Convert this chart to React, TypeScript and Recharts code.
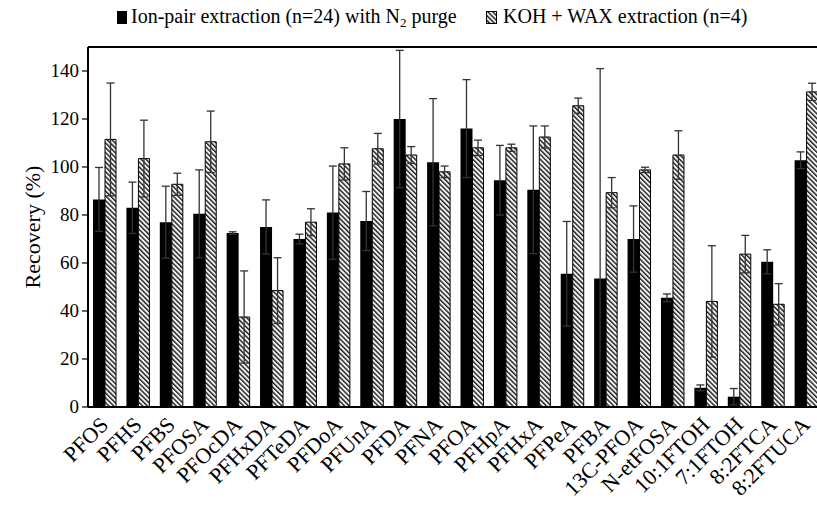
import React from 'react';
import { BarChart, Bar, XAxis, YAxis, ErrorBar, ReferenceLine } from 'recharts';

const categories = ['PFOS','PFHS','PFBS','PFOSA','PFOcDA','PFHxDA','PFTeDA','PFDoA','PFUnA','PFDA','PFNA','PFOA','PFHpA','PFHxA','PFPeA','PFBA','13C-PFOA','N-etFOSA','10:1FTOH','7:1FTOH','8:2FTCA','8:2FTUCA'];
const ionPair = [86.5, 83, 77, 80.5, 72.5, 75, 70, 81, 77.5, 120, 102, 116, 94.5, 90.5, 55.5, 53.5, 70, 45.5, 8, 4.3, 60.5, 102.8];
const ionPairErr = [13.3, 10.7, 15, 18.3, 0.5, 11.3, 2, 19.4, 12.3, 28.6, 26.5, 20.4, 14.5, 26.6, 21.8, 87.5, 13.8, 1.6, 1.2, 3.4, 5, 3.5];
const kohWax = [111.5, 103.5, 92.8, 110.5, 37.5, 48.5, 77, 101.3, 107.6, 105, 98, 108, 108, 112.5, 125.5, 89.3, 98.8, 105, 44, 63.7, 42.8, 131.3];
const kohWaxErr = [23.5, 16, 4.6, 12.8, 19.2, 13.7, 5.6, 6.7, 6.4, 3.5, 2.4, 3.2, 1.5, 4.6, 3.2, 6.3, 1.1, 10.1, 23.2, 7.8, 8.6, 3.6];
const yTicks = [0, 20, 40, 60, 80, 100, 120, 140];

const data = categories.map((name, i) => ({
  name,
  ion: ionPair[i],
  ionErr: [Math.min(ionPairErr[i], ionPair[i]), ionPairErr[i]],
  koh: kohWax[i],
  kohErr: [Math.min(kohWaxErr[i], kohWax[i]), kohWaxErr[i]],
}));

const FONT = '"Liberation Serif", "DejaVu Serif", serif';

const XTick = (props: any) => {
  const { x, y, payload } = props;
  const ax = x + 5;
  const ay = y + 11;
  return (
    <text x={ax} y={ay} textAnchor="end" fontFamily={FONT} fontSize={22} fill="#000"
      style={{ fontFamily: FONT }} transform={`rotate(-45, ${ax}, ${ay})`}>
      {payload.value}
    </text>
  );
};

const YTick = (props: any) => {
  const { x, y, payload } = props;
  return (
    <text x={x} y={y} dy={6} textAnchor="end" fontFamily={FONT} fontSize={19} fill="#000" style={{ fontFamily: FONT }}>
      {payload.value}
    </text>
  );
};

const YLabel = (props: any) => {
  const { viewBox } = props;
  const cx = 32;
  const cy = viewBox.y + viewBox.height / 2;
  return (
    <text x={cx} y={cy} textAnchor="middle" dominantBaseline="central" fontFamily={FONT} fontSize={22} fill="#000"
      style={{ fontFamily: FONT }} transform={`rotate(-90, ${cx}, ${cy})`}>
      Recovery (%)
    </text>
  );
};

export default function App() {
  return (
    <div style={{ position: 'absolute', left: 0, top: 0, width: 817, height: 506, overflow: 'hidden', background: '#fff', fontFamily: FONT }}>
      <div style={{ position: 'absolute', left: 0, top: 0, width: 817, height: 40, fontFamily: FONT, fontSize: 20, color: '#000' }}>
        <div style={{ position: 'absolute', left: 117, top: 11, width: 10, height: 13, background: '#000' }} />
        <div style={{ position: 'absolute', left: 131, top: 3, whiteSpace: 'nowrap', lineHeight: '26px' }}>
          Ion-pair extraction (n=24) with N<sub style={{ fontSize: 13, verticalAlign: '-4px', lineHeight: 0 }}>2</sub> purge
        </div>
        <svg style={{ position: 'absolute', left: 486, top: 11 }} width={11} height={13}>
          <defs>
            <pattern id="hatchL" patternUnits="userSpaceOnUse" width={3.4} height={3.4} patternTransform="rotate(-45)">
              <rect width={3.4} height={3.4} fill="#f4f4f4" />
              <line x1={0.7} y1={0} x2={0.7} y2={3.4} stroke="#1a1a1a" strokeWidth={1.4} />
            </pattern>
          </defs>
          <rect x={0.5} y={0.5} width={10} height={12} fill="url(#hatchL)" stroke="#000" strokeWidth={1} />
        </svg>
        <div style={{ position: 'absolute', left: 503, top: 3, whiteSpace: 'nowrap', lineHeight: '26px' }}>
          KOH + WAX extraction (n=4)
        </div>
      </div>
      <BarChart width={840} height={506} data={data} margin={{ top: 47, right: 17, bottom: 0, left: 0 }}
        barGap={0} barCategoryGap={10} style={{ fontFamily: FONT }}>
        <defs>
          <pattern id="hatch" patternUnits="userSpaceOnUse" width={3.4} height={3.4} patternTransform="rotate(-45)">
            <rect width={3.4} height={3.4} fill="#f4f4f4" />
            <line x1={0.7} y1={0} x2={0.7} y2={3.4} stroke="#1a1a1a" strokeWidth={1.4} />
          </pattern>
        </defs>
        <XAxis dataKey="name" height={99} interval={0} tickLine={false} axisLine={{ stroke: '#000', strokeWidth: 2 }}
          tick={<XTick />} />
        <YAxis width={88} domain={[0, 150]} ticks={yTicks} type="number" allowDataOverflow
          axisLine={{ stroke: '#000', strokeWidth: 2 }} tickLine={{ stroke: '#000', strokeWidth: 1.2 }} tickSize={6} tickMargin={3}
          tick={<YTick />}
          label={<YLabel />} />
        <ReferenceLine y={150} stroke="#000" strokeWidth={2} />
        <Bar dataKey="ion" fill="#000" barSize={12} isAnimationActive={false}>
          <ErrorBar dataKey="ionErr" width={4} stroke="#333" strokeWidth={1.3} direction="y" />
        </Bar>
        <Bar dataKey="koh" fill="url(#hatch)" stroke="#000" strokeWidth={1} barSize={11} isAnimationActive={false}>
          <ErrorBar dataKey="kohErr" width={4} stroke="#333" strokeWidth={1.3} direction="y" />
        </Bar>
      </BarChart>
    </div>
  );
}
